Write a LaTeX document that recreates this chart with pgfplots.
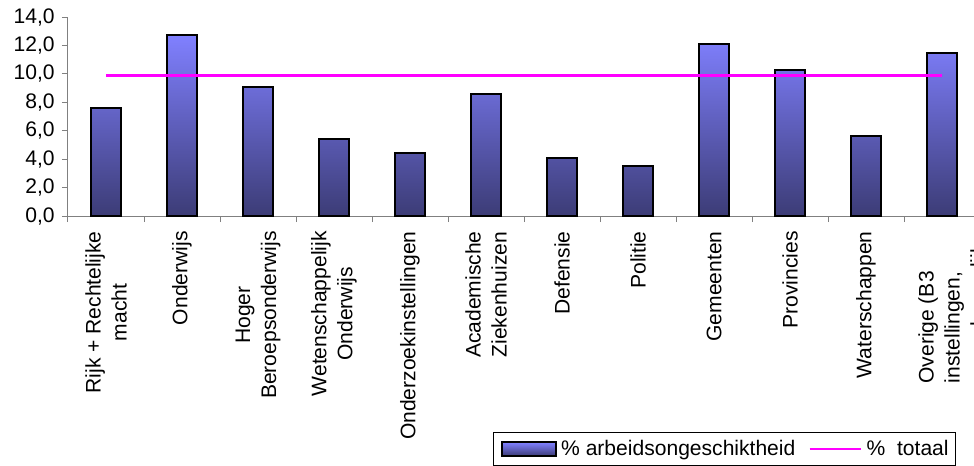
\documentclass[border=0pt]{standalone}
\usepackage{fontspec}
\setmainfont{Liberation Sans}
\usepackage{pgfplots}
\pgfplotsset{compat=1.18}
\definecolor{bartop}{RGB}{128,128,255}
\definecolor{barmid}{RGB}{104,104,212}
\definecolor{barbot}{RGB}{60,60,118}
\definecolor{axgray}{RGB}{128,128,128}
\definecolor{mag}{RGB}{255,0,255}
\newcommand\lab{\fontsize{15.8}{19.5}\selectfont}
\pgfplotsset{
  barleg/.style={legend image code/.code={\draw[##1] (0pt,-5pt) rectangle (40pt,5pt);}},
  lineleg/.style={legend image code/.code={\draw[##1, line width=1.2pt] (0pt,0pt) -- (38.75pt,0pt);}},
}
\begin{document}
\begin{tikzpicture}
\begin{axis}[
  at={(0,0)}, anchor=south west,
  scale only axis, width=684pt, height=149.25pt,
  xmin=-0.5, xmax=11.5, ymin=0, ymax=14,
  axis x line=bottom, axis y line=left,
  axis line style={draw=axgray, line width=0.75pt, -},
  tick align=outside,
  major tick length=4.5pt,
  minor tick length=4.5pt,
  tick style={draw=axgray, line width=0.75pt},
  every major x tick/.append style={draw=none},
  ytick={0,2,...,14},
  xtick={0,1,2,3,4,5,6,7,8,9,10,11.16},
  minor xtick={-0.5,0.5,1.5,2.5,3.5,4.5,5.5,6.5,7.5,8.5,9.5,10.5,11.5},
  xticklabels={
    {Rijk + Rechtelijke\\macht},
    {Onderwijs},
    {Hoger\\Beroepsonderwijs},
    {Wetenschappelijk\\Onderwijs},
    {Onderzoekinstellingen},
    {Academische\\Ziekenhuizen},
    {Defensie},
    {Politie},
    {Gemeenten},
    {Provincies},
    {Waterschappen},
    {Overige (B3\\instellingen,\\gemeenschappelijke}},
  xticklabel style={rotate=90, anchor=east, align=center, font=\lab},
  xticklabel shift=3.5pt,
  yticklabel style={font=\lab, /pgf/number format/.cd, fixed, fixed zerofill, precision=1, use comma, assume math mode=true},
  yticklabel shift=2pt,
  legend columns=2,
  legend style={at={(0.4664,-1.0854)}, anchor=north west, draw=black, line width=0.75pt,
    font=\lab, inner xsep=5.5pt, inner ysep=4pt,
    nodes={inner xsep=0pt, inner ysep=2pt},
    /tikz/every odd column/.append style={column sep=3.5pt},
    /tikz/every even column/.append style={column sep=10pt}},
]
\addplot[ybar, bar width=0.39, draw=black, line width=1.5pt,
  top color=bartop, middle color=barmid, bottom color=barbot, barleg]
  coordinates {(0,7.6) (1,12.7) (2,9.1) (3,5.4) (4,4.4) (5,8.6) (6,4.1) (7,3.5) (8,12.1) (9,10.3) (10,5.6) (11,11.5)};
\addlegendentry{\% arbeidsongeschiktheid}
\addplot[draw=mag, line width=2.25pt, lineleg]
  coordinates {(0,9.9) (11,9.9)};
\addlegendentry{\%\ \ totaal}
\end{axis}
\pgfresetboundingbox
\path[use as bounding box] (-51pt,-186.75pt) rectangle (679.5pt,162pt);
\end{tikzpicture}
\end{document}
